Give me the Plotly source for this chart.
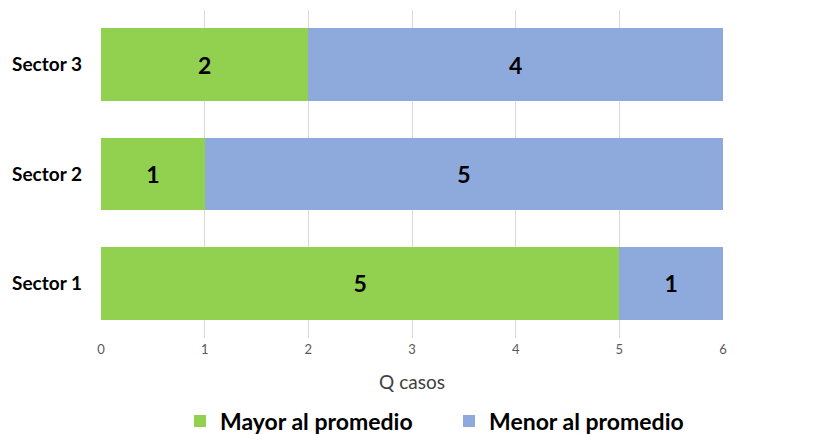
import plotly.graph_objects as go

categories = ["Sector 1", "Sector 2", "Sector 3"]
mayor = [5, 1, 2]
menor = [1, 5, 4]
x_ticks = [0, 1, 2, 3, 4, 5, 6]

FONT = "Lato"
# page body has an 8px default margin; figure is sized and offset for it
W, H = 813, 426

fig = go.Figure()
fig.add_trace(go.Bar(
    y=categories, x=mayor, orientation="h", name="Mayor al promedio",
    marker=dict(color="#92D050", line=dict(width=0)),
    text=mayor, textposition="inside", insidetextanchor="middle",
    textfont=dict(family=FONT, size=23, color="black", weight="bold"),
    hoverinfo="x+y",
))
fig.add_trace(go.Bar(
    y=categories, x=menor, orientation="h", name="Menor al promedio",
    marker=dict(color="#8EA9DB", line=dict(width=0)),
    text=menor, textposition="inside", insidetextanchor="middle",
    textfont=dict(family=FONT, size=23, color="black", weight="bold"),
    hoverinfo="x+y",
))

fig.update_layout(
    barmode="stack",
    bargap=0.333,
    width=W, height=H,
    margin=dict(l=93, r=98, t=2, b=96, autoexpand=False),
    plot_bgcolor="white", paper_bgcolor="white",
    font=dict(family=FONT),
    xaxis=dict(
        range=[0, 6], tickvals=x_ticks, showgrid=True, gridcolor="#D9D9D9", gridwidth=1,
        zeroline=False, showline=False, automargin=False,
        tickfont=dict(size=13, color="#595959"),
        ticks="", ticklabelstandoff=2,
        title=dict(text="Q casos", font=dict(size=19, color="#404040"), standoff=19),
    ),
    yaxis=dict(
        showgrid=False, zeroline=False, showline=False, automargin=False,
        tickfont=dict(size=19, color="black", weight="bold"),
        ticklabelstandoff=18,
    ),
    legend=dict(
        orientation="h", traceorder="normal",
        xref="container", yref="container",
        x=172 / W, xanchor="left", y=13 / H, yanchor="middle",
        font=dict(size=23, color="black", weight="bold"),
        itemwidth=30, entrywidth=224,
    ),
    showlegend=True,
)

fig.write_html("out.html")
